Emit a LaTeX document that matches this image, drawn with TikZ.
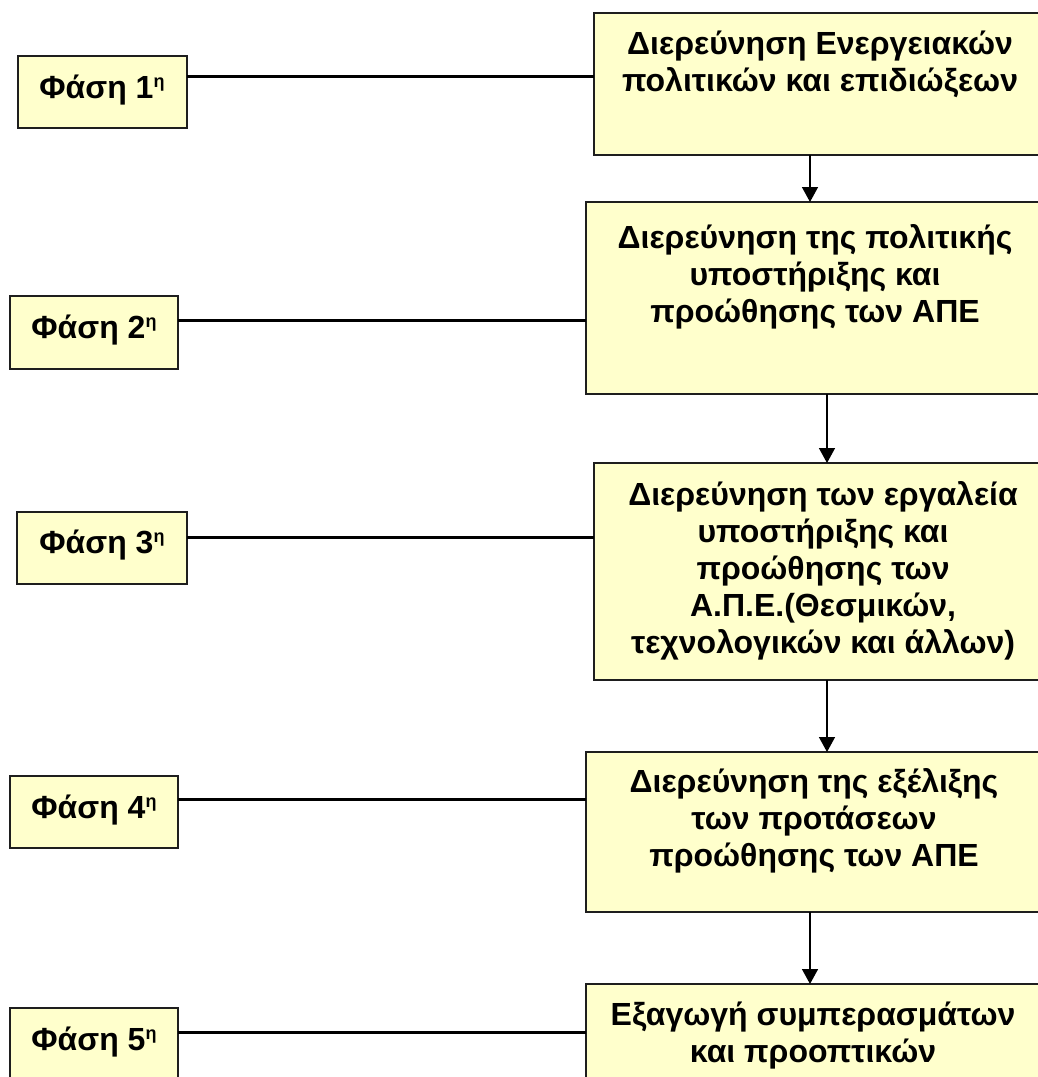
\documentclass[tikz,border=0pt]{standalone}
\usepackage{fontspec}
\setmainfont{Liberation Sans}
\usetikzlibrary{arrows.meta}
\definecolor{boxfill}{RGB}{255,255,204}
\definecolor{boxline}{RGB}{30,30,30}
\tikzset{
  phasebox/.style={draw=boxline, fill=boxfill, line width=1.5pt, anchor=north west, inner sep=0pt, outer sep=0pt},
  txt/.style={anchor=north, align=center, inner sep=0pt, font=\fontsize{32}{37}\selectfont\bfseries},
  link/.style={line width=3pt, draw=black},
  flow/.style={line width=1.5pt, draw=black, -{Triangle[width=16pt,length=15pt]}}
}
\newcommand{\stp}{\rule{0pt}{28pt}}
\newcommand{\sth}{\raisebox{11pt}{\fontsize{18}{18}\selectfont η}}
\begin{document}
\begin{tikzpicture}[x=1pt,y=-1pt]
\useasboundingbox (0,0) rectangle (1038,1077);
\clip (0,0) rectangle (1038,1077);
% right boxes
\node[phasebox, minimum width=452pt, minimum height=142pt] (R1) at (594,13) {};
\node[phasebox, minimum width=458pt, minimum height=192pt] (R2) at (586,202) {};
\node[phasebox, minimum width=458pt, minimum height=217pt] (R3) at (594,463) {};
\node[phasebox, minimum width=456pt, minimum height=160pt] (R4) at (586,752) {};
\node[phasebox, minimum width=454pt, minimum height=130pt] (R5) at (586,984) {};
% right texts
\node[txt] (T1) at (820,26) {\stp Διερεύνηση Ενεργειακών\\πολιτικών και επιδιώξεων};
\node[txt] (T2) at (815,220) {\stp Διερεύνηση της πολιτικής\\υποστήριξης και\\προώθησης των ΑΠΕ};
\node[txt] (T3) at (823,477) {\stp Διερεύνηση των εργαλεία\\υποστήριξης και\\προώθησης των\\Α.Π.Ε.(Θεσμικών,\\τεχνολογικών και άλλων)};
\node[txt] (T4) at (814,764) {\stp Διερεύνηση της εξέλιξης\\των προτάσεων\\προώθησης των ΑΠΕ};
\node[txt] (T5) at (813,997) {\stp Εξαγωγή συμπερασμάτων\\και προοπτικών};
% left boxes
\node[phasebox, minimum width=169pt, minimum height=72pt] (L1) at (18,56) {};
\node[phasebox, minimum width=168pt, minimum height=73pt] (L2) at (10,296) {};
\node[phasebox, minimum width=170pt, minimum height=72pt] (L3) at (17,512) {};
\node[phasebox, minimum width=168pt, minimum height=72pt] (L4) at (10,776) {};
\node[phasebox, minimum width=168pt, minimum height=72pt] (L5) at (10,1008) {};
% left texts
\node[txt] (P1) at (102,70) {\stp Φάση 1\sth};
\node[txt] (P2) at (94,310) {\stp Φάση 2\sth};
\node[txt] (P3) at (102,525) {\stp Φάση 3\sth};
\node[txt] (P4) at (94,790) {\stp Φάση 4\sth};
\node[txt] (P5) at (94,1022) {\stp Φάση 5\sth};
% horizontal links
\draw[link] (L1.east |- 0,76) -- (R1.west |- 0,76);
\draw[link] (L2.east |- 0,320) -- (R2.west |- 0,320);
\draw[link] (L3.east |- 0,537) -- (R3.west |- 0,537);
\draw[link] (L4.east |- 0,799) -- (R4.west |- 0,799);
\draw[link] (L5.east |- 0,1032) -- (R5.west |- 0,1032);
% flow arrows
\draw[flow] (R1.south -| 810,0) -- (R2.north -| 810,0);
\draw[flow] (R2.south -| 827,0) -- (R3.north -| 827,0);
\draw[flow] (R3.south -| 827,0) -- (R4.north -| 827,0);
\draw[flow] (R4.south -| 810,0) -- (R5.north -| 810,0);
\end{tikzpicture}
\end{document}
